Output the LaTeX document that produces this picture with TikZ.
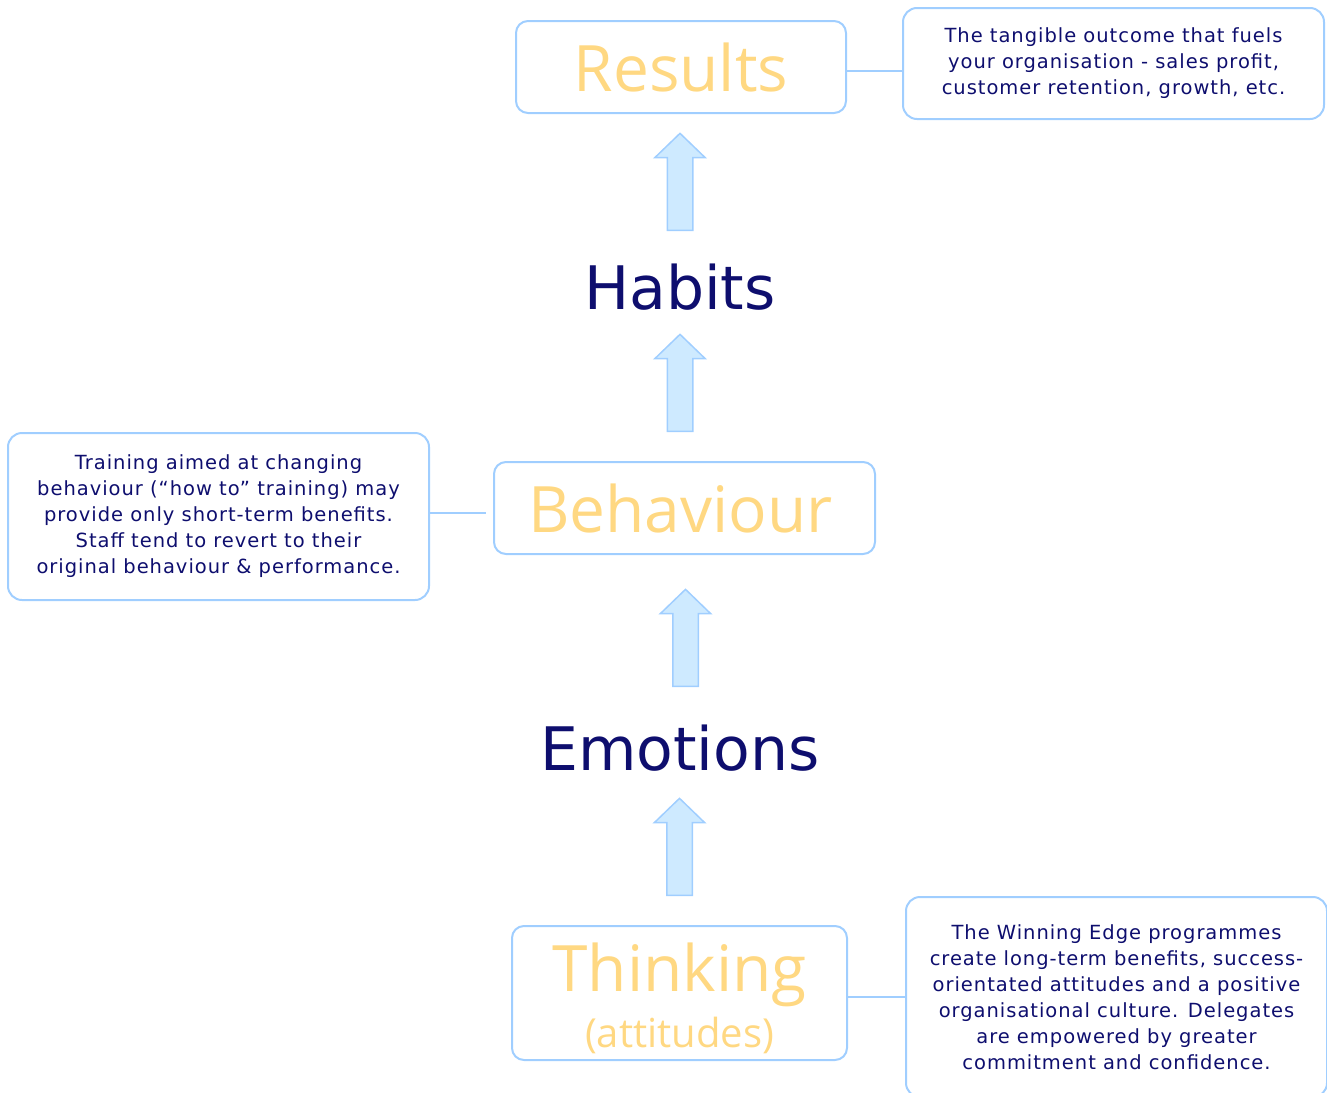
\documentclass[tikz,border=0pt]{standalone}
\usepackage{fontspec}
\setmainfont{DejaVu Sans}
\newfontfamily\headfont{Open Sans}
\newfontfamily\notefont[LetterSpace=5]{DejaVu Sans}
\usetikzlibrary{shapes,positioning}

\definecolor{navy}{RGB}{14,14,110}
\definecolor{gold}{RGB}{255,216,130}
\definecolor{sky}{RGB}{160,206,255}
\definecolor{skyfill}{RGB}{206,234,255}

\begin{document}
\begin{tikzpicture}[x=1pt, y=-1pt,
  stage/.style={draw=sky, line width=2pt, rounded corners=12pt, text=gold, align=center,
    font=\headfont\fontsize{64}{50}\selectfont},
  note/.style={draw=sky, line width=2pt, rounded corners=14pt, text=navy, align=center,
    font=\notefont\fontsize{19.5}{26}\selectfont, execute at begin node={\rule{0pt}{22.8pt}}},
  word/.style={text=navy, font=\fontsize{60}{70}\selectfont},
  lift/.style={single arrow, draw=sky, fill=skyfill, line width=1.5pt, shape border rotate=90,
    minimum height=97pt, single arrow head extend=12.5pt,
    single arrow tip angle=92, inner sep=12pt},
  link/.style={draw=sky, line width=2pt}]
\useasboundingbox (0,0) rectangle (1327,1092);

% the chain, bottom to top
\node[stage, minimum width=335, minimum height=134] (thinking) at (679.5,993)
  {\rule{0pt}{60pt}Thinking\\[6pt]{\fontsize{40}{48}\selectfont(attitudes)}};
\node[word] (emotions) at (680,748) {Emotions};
\node[stage, minimum width=381, minimum height=92] (behaviour) at (684.5,508) {Behaviour\hspace{8pt}};
\node[word] (habits) at (680,287) {Habits};
\node[stage, minimum width=330, minimum height=92] (results) at (681,67) {Results};

% block arrows (node centre sits a little below the middle)
\node[lift] (up1) at (679.5,853) {};
\node[lift] (up2) at (685.5,644) {};
\node[lift] (up3) at (680,389) {};
\node[lift] (up4) at (680,188) {};

% side notes
\node[note, minimum width=421, minimum height=111] (outcome) at (1113.5,63.5)
  {The tangible outcome that fuels\\your organisation - sales profit,\\customer retention, growth, etc.};
\node[note, minimum width=421, minimum height=167] (training) at (218.5,516.5)
  {Training aimed at changing\\behaviour (“how to” training) may\\provide only short-term benefits.\\Staff tend to revert to their\\original behaviour \& performance.};
\node[note, minimum width=421, minimum height=200] (edge) at (1116.5,997)
  {The Winning Edge programmes\\create long-term benefits, success-\\orientated attitudes and a positive\\organisational culture. Delegates\\are empowered by greater\\commitment and confidence.};

\coordinate (gap) at (486,513);
\draw[link] (results.east |- 0,71) -- (outcome.west |- 0,71);
\draw[link] (training.east |- gap) -- (gap);
\draw[link] (thinking.east |- 0,997) -- (edge.west |- 0,997);
\end{tikzpicture}
\end{document}
